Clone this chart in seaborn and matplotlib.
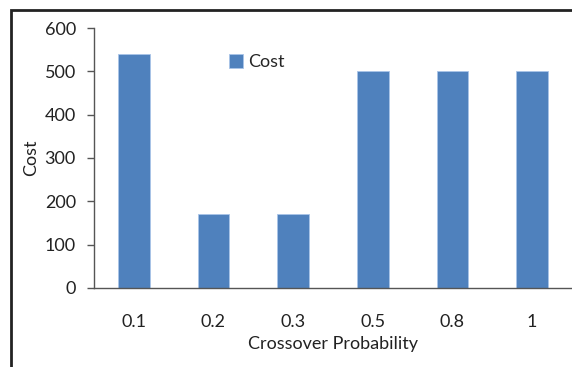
import matplotlib
matplotlib.use("Agg")
import matplotlib.pyplot as plt
import seaborn as sns
import pandas as pd
from matplotlib.patches import Rectangle

# data
crossover_prob = ["0.1", "0.2", "0.3", "0.5", "0.8", "1"]
cost = [540, 170, 170, 500, 500, 500]

df = pd.DataFrame({"Crossover Probability": crossover_prob, "Cost": cost})

sns.set_style("white")
plt.rcParams["font.family"] = ["Lato", "DejaVu Sans"]

fig = plt.figure(figsize=(5.72, 3.67), dpi=100)
ax = fig.add_axes([0.1643, 0.2153, 0.8357, 0.7084])

sns.barplot(data=df, x="Crossover Probability", y="Cost", color="#4F81BD",
            width=0.4, saturation=1, edgecolor="#A9C4E8", linewidth=0.6,
            label="Cost", ax=ax)

ax.set_ylim(0, 600)
ax.set_yticks(range(0, 601, 100))
ax.set_xlim(-0.5, len(crossover_prob) - 0.5)

fs = 13

# x ticks sit between categories like the excel style
ax.set_xticks([i - 0.5 for i in range(len(crossover_prob) + 1)], minor=True)
ax.tick_params(axis="x", which="major", length=0, pad=19, labelsize=fs, colors="#222222")
ax.tick_params(axis="x", which="minor", length=5, width=1, color="#555555", direction="out")
ax.tick_params(axis="y", length=5, width=1, color="#555555", direction="out",
               labelsize=fs, labelcolor="#222222", left=True, pad=8)

for side in ["top", "right"]:
    ax.spines[side].set_visible(False)
for side in ["left", "bottom"]:
    ax.spines[side].set_color("#555555")
    ax.spines[side].set_linewidth(1)

ax.set_xlabel("Crossover Probability", fontsize=fs, color="#222222", labelpad=4)
ax.set_ylabel("Cost", fontsize=fs, color="#222222", labelpad=4)

ax.legend(loc="upper left", bbox_to_anchor=(0.268, 0.927), frameon=False,
          fontsize=fs, handlelength=0.75, handleheight=0.75, handletextpad=0.3,
          borderaxespad=0)

# outer frame of the original figure (only top and left visible)
fig.add_artist(Rectangle((11 / 572, -0.1), 1.2, 1 - 10 / 367 + 0.1,
                         transform=fig.transFigure, fill=False,
                         edgecolor="#222222", linewidth=2))

fig.savefig("out.png", dpi=100)
